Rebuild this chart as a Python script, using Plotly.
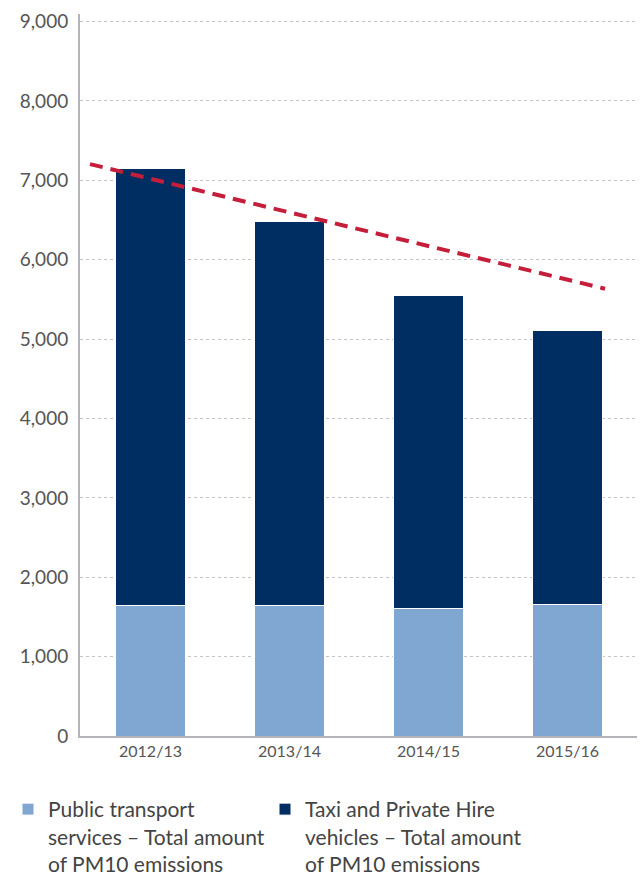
import plotly.graph_objects as go

categories = ["2012/13", "2013/14", "2014/15", "2015/16"]
public_transport = [1650, 1650, 1610, 1660]
taxi_phv = [5495, 4825, 3945, 3450]
trend_x = [-0.435, 3.27]
trend_y = [7204, 5634]
y_ticks = [0, 1000, 2000, 3000, 4000, 5000, 6000, 7000, 8000, 9000]

pos = list(range(len(categories)))
font_family = "Lato, 'Open Sans', sans-serif"

fig = go.Figure()
fig.add_trace(go.Bar(
    x=pos, y=public_transport,
    name="Public transport<br>services – Total amount<br>of PM10 emissions",
    marker=dict(color="#80a6d2", line=dict(color="white", width=1)),
    width=0.5,
))
fig.add_trace(go.Bar(
    x=pos, y=taxi_phv,
    name="Taxi and Private Hire<br>vehicles – Total amount<br>of PM10 emissions",
    marker=dict(color="#002d62", line=dict(color="white", width=1)),
    width=0.5,
))
fig.add_trace(go.Scatter(
    x=trend_x, y=trend_y, mode="lines",
    line=dict(color="#c41e3a", width=4, dash="13px,8px"),
    showlegend=False, hoverinfo="skip",
))

fig.update_layout(
    barmode="stack",
    width=640, height=879,
    margin=dict(l=80, r=3, t=14, b=143, autoexpand=False),
    plot_bgcolor="white", paper_bgcolor="white",
    font=dict(family=font_family, color="#555555"),
    xaxis=dict(
        range=[-0.507, 3.5],
        tickvals=pos, ticktext=categories,
        tickfont=dict(size=16, color="#555555"),
        showgrid=False, zeroline=False,
        showline=True, linecolor="#b3b3b8", linewidth=2,
        ticks="", ticklen=0, automargin=False,
    ),
    yaxis=dict(
        range=[0, 9095],
        tickvals=y_ticks,
        tickformat=",",
        tickfont=dict(size=19, color="#555555"),
        showgrid=True, gridcolor="#c4c4c4", gridwidth=1, griddash="dot",
        zeroline=False,
        showline=True, linecolor="#b3b3b8", linewidth=2,
        ticks="", ticklen=0, automargin=False,
        ticklabelstandoff=6,
    ),
    legend=dict(
        orientation="h",
        xref="container", yref="container",
        x=0.0125, y=0.1024, xanchor="left", yanchor="top",
        font=dict(size=21, color="#444444", family=font_family),
        valign="top",
        entrywidth=212, entrywidthmode="pixels",
        traceorder="normal",
        bgcolor="rgba(0,0,0,0)",
    ),
)

fig.write_html(
    "out.html",
    config={"displayModeBar": False},
    post_script="document.body.style.margin='0';document.body.style.padding='0';",
)
